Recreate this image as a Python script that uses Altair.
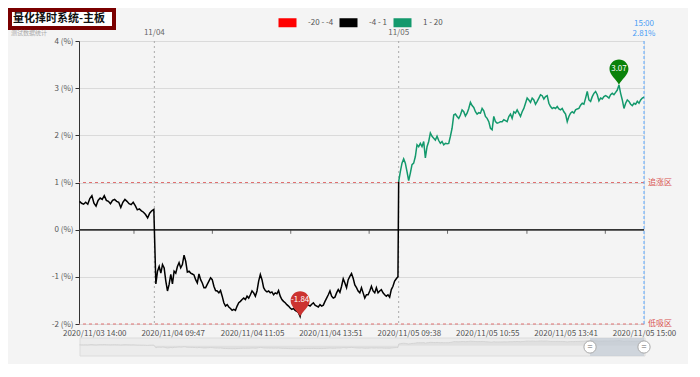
import altair as alt
import pandas as pd
import numpy as np

# ---------------- data ----------------
title_text = "量化择时系统-主板"
subtitle_text = "测试数据统计"

# 11/03 afternoon (percent)
seg1_values = [0.60, 0.56, 0.54, 0.58, 0.54, 0.66, 0.72, 0.56, 0.50, 0.62, 0.67, 0.64, 0.72,
               0.62, 0.60, 0.55, 0.62, 0.64, 0.60, 0.58, 0.47, 0.58, 0.64, 0.60, 0.55, 0.53,
               0.58, 0.51, 0.42, 0.44, 0.40, 0.37, 0.32, 0.25, 0.35, 0.40, 0.43]
# 11/04 full day
seg2_values = [-1.15, -0.88, -0.78, -0.92, -0.74, -0.81, -1.09, -1.30, -1.16, -0.95, -1.15,
               -0.88, -0.92, -0.78, -0.70, -0.81, -0.74, -0.54, -0.67, -0.90, -0.88, -0.92,
               -0.94, -0.96, -1.06, -1.13, -0.94, -1.06, -1.13, -1.23, -1.23, -1.16, -1.09,
               -1.02, -1.06, -1.20, -1.29, -1.30, -1.34, -1.29, -1.41, -1.55, -1.62, -1.59,
               -1.64, -1.67, -1.71, -1.69, -1.71, -1.62, -1.55, -1.52, -1.48, -1.45, -1.48,
               -1.41, -1.45, -1.38, -1.30, -1.34, -1.41, -1.30, -1.09, -0.95, -1.06, -1.23,
               -1.29, -1.32, -1.30, -1.34, -1.32, -1.38, -1.34, -1.36, -1.29, -1.41, -1.48,
               -1.52, -1.55, -1.59, -1.62, -1.66, -1.69, -1.67, -1.71, -1.73, -1.76, -1.84,
               -1.66, -1.62, -1.57, -1.59, -1.60, -1.62, -1.58, -1.55, -1.60, -1.62, -1.64,
               -1.59, -1.62, -1.60, -1.52, -1.45, -1.38, -1.30, -1.41, -1.45, -1.43, -1.34,
               -1.27, -1.33, -1.20, -1.04, -1.13, -1.23, -1.06, -0.99, -0.93, -1.03, -1.17,
               -1.23, -1.30, -1.34, -1.23, -1.34, -1.45, -1.38, -1.38, -1.30, -1.20, -1.30,
               -1.34, -1.23, -1.34, -1.30, -1.27, -1.34, -1.38, -1.41, -1.38, -1.43, -1.27,
               -1.20, -1.09, -1.04, -1.00]
# 11/05 full day
seg3_values = [1.02,
               1.23, 1.41, 1.50, 1.41, 1.23, 1.04, 1.20, 1.38, 1.41, 1.55,
               1.80, 1.76, 1.83, 1.76, 1.87, 1.52, 1.76, 1.87, 2.05, 1.98,
               1.94, 1.90, 1.98, 1.89, 1.83, 1.87, 1.80, 1.83, 1.82, 1.83,
               1.98, 2.15, 2.43, 2.45, 2.40, 2.36, 2.43, 2.54, 2.50, 2.41,
               2.47, 2.57, 2.70, 2.63, 2.59, 2.50, 2.45, 2.48, 2.47, 2.57,
               2.52, 2.40, 2.36, 2.29, 2.15, 2.12, 2.40, 2.29, 2.26, 2.27,
               2.29, 2.29, 2.33, 2.31, 2.29, 2.40, 2.45, 2.36, 2.50, 2.47,
               2.54, 2.47, 2.40, 2.50, 2.57, 2.68, 2.79, 2.75, 2.70, 2.79,
               2.75, 2.66, 2.72, 2.79, 2.86, 2.84, 2.77, 2.82, 2.84, 2.68,
               2.61, 2.57, 2.59, 2.57, 2.61, 2.56, 2.54, 2.57, 2.50, 2.45,
               2.29, 2.40, 2.47, 2.50, 2.47, 2.54, 2.56, 2.57, 2.64, 2.68,
               2.66, 2.79, 2.93, 2.75, 2.72, 2.82, 2.89, 2.93, 2.86, 2.73,
               2.79, 2.77, 2.82, 2.84, 2.82, 2.79, 2.86, 2.89, 2.86, 2.91,
               2.96, 3.07, 2.89, 2.75, 2.57, 2.68, 2.75, 2.72, 2.66, 2.63,
               2.68, 2.66, 2.72, 2.68, 2.75, 2.79, 2.81]

# trading-minute span of each session on the time axis
session_spans = [(0.5, 73.5), (75.5, 313.3), (314.0, 555.0)]
time_domain = [0, 555]

day_lines = [74, 314]
day_labels = ["11/04", "11/05"]
end_time_label = "15:00"

x_label_pos = [15, 92, 170, 247, 324, 401, 478, 555]
x_label_text = ["2020/11/03 14:00", "2020/11/04 09:47", "2020/11/04 11:05", "2020/11/04 13:51",
                "2020/11/05 09:38", "2020/11/05 10:55", "2020/11/05 13:41", "2020/11/05 15:00"]
zero_ticks = [54, 131, 208, 285, 362, 440, 517]
y_ticks = [-2, -1, 0, 1, 2, 3, 4]

band_names = ["-20 - -4", "-4 - 1", "1 - 20"]
band_colors = ["#ff0000", "#000000", "#13996c"]

zone_values = [1, -2]
zone_labels = ["追涨区", "低吸区"]

zoom_window = [502, 555]

# ---------------- build tables ----------------
t1 = np.linspace(*session_spans[0], len(seg1_values))
t2 = np.linspace(*session_spans[1], len(seg2_values))
t3 = np.linspace(*session_spans[2], len(seg3_values))

black_t = list(t1) + list(t2) + [t3[0]]
black_v = seg1_values + seg2_values + [seg3_values[0]]
line_df = pd.concat([
    pd.DataFrame({"t": black_t, "v": black_v, "band": band_names[1]}),
    pd.DataFrame({"t": list(t3), "v": seg3_values, "band": band_names[2]}),
], ignore_index=True)

all_df = pd.DataFrame({"t": list(t1) + list(t2) + list(t3),
                       "v": seg1_values + seg2_values + seg3_values})
imin = all_df["v"].idxmin()
imax = all_df["v"].idxmax()
pins_df = pd.DataFrame({
    "t": [all_df.t[imin], all_df.t[imax]],
    "v": [all_df.v[imin], all_df.v[imax]],
    "label": [f"{all_df.v[imin]:.2f}", f"{all_df.v[imax]:.2f}"],
    "color": ["#cc3330", "#0a820a"],
})

zone_df = pd.DataFrame({"v": zone_values, "label": zone_labels})
day_df = pd.DataFrame({"t": day_lines, "label": day_labels})
end_df = pd.DataFrame({"t": [time_domain[1]], "time": [end_time_label],
                       "pct": [f"{seg3_values[-1]:.2f}%"]})
tick_df = pd.DataFrame({"t": zero_ticks})
title_df = pd.DataFrame({"title": [title_text], "sub": [subtitle_text]})
win_df = pd.DataFrame({"t": [zoom_window[0]], "t2": [zoom_window[1]]})
handle_df = pd.DataFrame({"t": zoom_window})

W, H = 565, 283
FONT = "Noto Sans CJK SC"

xs = alt.Scale(domain=time_domain, nice=False, zero=False)
ys = alt.Scale(domain=[-2, 4], nice=False, zero=False)

label_expr = "{}[indexof({}, datum.value)]".format(
    "[" + ",".join(f"'{s}'" for s in x_label_text) + "]",
    "[" + ",".join(str(p) for p in x_label_pos) + "]")

x_axis = alt.Axis(values=x_label_pos, labelExpr=label_expr, ticks=False, domain=False,
                  grid=False, labelFontSize=8, labelColor="#555", labelPadding=5,
                  labelOverlap=False, labelFlush=False, title=None, labelFont=FONT)
y_axis = alt.Axis(values=y_ticks, labelExpr="datum.value + ' (%)'", labelFontSize=8,
                  labelColor="#555", domainColor="#333", tickColor="#333", tickSize=4,
                  gridColor="#dadada", gridWidth=1.2, title=None, labelPadding=2,
                  labelFont=FONT)

lines = alt.Chart(line_df).mark_line(strokeWidth=1.5).encode(
    x=alt.X("t:Q", scale=xs, axis=x_axis),
    y=alt.Y("v:Q", scale=ys, axis=y_axis),
    color=alt.Color("band:N", scale=alt.Scale(domain=band_names, range=band_colors),
                    legend=alt.Legend(orient="none", legendX=195, legendY=-32,
                                      direction="horizontal", columns=3, title=None,
                                      symbolType="M-1,0L1,0", symbolSize=324,
                                      symbolStrokeWidth=9, labelFontSize=8,
                                      labelColor="#555", labelOffset=7, columnPadding=-13,
                                      padding=0, labelFont=FONT)),
    order="t:Q",
)

zero_rule = alt.Chart(tick_df).mark_rule(color="#333", strokeWidth=1).encode(
    y=alt.datum(0, scale=ys))
zero_ticks_m = alt.Chart(tick_df).mark_tick(orient="vertical", size=4, thickness=1,
                                            color="#333", yOffset=2).encode(
    x=alt.X("t:Q", scale=xs), y=alt.datum(0))

zone_rules = alt.Chart(zone_df).mark_rule(color="#e07070", strokeDash=[3, 3]).encode(
    y=alt.Y("v:Q", scale=ys))
zone_text = alt.Chart(zone_df).mark_text(align="left", dx=4, fontSize=8, color="#d9534f",
                                         font=FONT).encode(
    y=alt.Y("v:Q", scale=ys), x=alt.value(W), text="label:N")

day_rules = alt.Chart(day_df).mark_rule(color="#aaaaaa", strokeDash=[2, 3]).encode(
    x=alt.X("t:Q", scale=xs))
day_text = alt.Chart(day_df).mark_text(fontSize=8, color="#666", font=FONT).encode(
    x=alt.X("t:Q", scale=xs), y=alt.value(-8), text="label:N")

end_rule = alt.Chart(end_df).mark_rule(color="#5aa8ff", strokeDash=[3, 2]).encode(
    x=alt.X("t:Q", scale=xs))
end_time = alt.Chart(end_df).mark_text(fontSize=8, color="#4a9df5", font=FONT).encode(
    x=alt.X("t:Q", scale=xs), y=alt.value(-17), text="time:N")
end_pct = alt.Chart(end_df).mark_text(fontSize=8, color="#4a9df5", font=FONT).encode(
    x=alt.X("t:Q", scale=xs), y=alt.value(-7), text="pct:N")

PIN = "M0,0 C-0.15,-0.35 -0.6,-0.6 -0.6,-1 A0.6,0.6 0 1 1 0.6,-1 C0.6,-0.6 0.15,-0.35 0,0 Z"
pins = alt.Chart(pins_df).mark_point(shape=PIN, size=1000, filled=True, opacity=1).encode(
    x=alt.X("t:Q", scale=xs), y=alt.Y("v:Q", scale=ys), color=alt.Color("color:N", scale=None))
pin_text = alt.Chart(pins_df).mark_text(fontSize=8, color="white", dy=-16, font=FONT).encode(
    x=alt.X("t:Q", scale=xs), y=alt.Y("v:Q", scale=ys), text="label:N")

title_box = alt.Chart(title_df).mark_rect(fill="white", stroke="#7a0000", strokeWidth=4).encode(
    x=alt.value(-69), x2=alt.value(35), y=alt.value(-31), y2=alt.value(-13))
title_txt = alt.Chart(title_df).mark_text(align="left", fontSize=11, fontWeight="bold",
                                          color="#111", font=FONT).encode(
    x=alt.value(-66), y=alt.value(-22), text="title:N")
sub_txt = alt.Chart(title_df).mark_text(align="left", fontSize=6, color="#aaa", font=FONT).encode(
    x=alt.value(-68), y=alt.value(-8), text="sub:N")

main = alt.layer(zone_rules, day_rules, end_rule, zero_rule, zero_ticks_m, lines, zone_text,
                 day_text, end_time, end_pct, pins, pin_text, title_box, title_txt, sub_txt)

# ---------------- data-zoom strip under the plot ----------------
mys = alt.Scale(domain=[-6, 4], range=[315, 298], zero=False, nice=False)
mini_bg = alt.Chart(title_df).mark_rect(fill="#ececec", stroke="#dcdcdc").encode(
    x=alt.value(1), x2=alt.value(W + 1), y=alt.value(297), y2=alt.value(315))
mini_area = alt.Chart(all_df).mark_area(color="#dcdcdc", line={"color": "#cfcfcf", "strokeWidth": 0.8}).encode(
    x=alt.X("t:Q", scale=xs), y=alt.Y("v:Q", scale=mys, axis=None), y2=alt.value(315))
mini_win = alt.Chart(win_df).mark_rect(fill="#b8c2d0", opacity=0.55).encode(
    x=alt.X("t:Q", scale=xs), x2="t2:Q", y=alt.value(297), y2=alt.value(315))
mini_handles = alt.Chart(handle_df).mark_point(shape="circle", size=150, filled=True,
                                               fill="white", stroke="#aaa", strokeWidth=1,
                                               opacity=1).encode(
    x=alt.X("t:Q", scale=xs), y=alt.value(306))
mini_handle_txt = alt.Chart(handle_df).mark_text(text="=", fontSize=9, color="#666").encode(
    x=alt.X("t:Q", scale=xs), y=alt.value(306))

mini = alt.layer(mini_bg, mini_area, mini_win, mini_handles, mini_handle_txt)

chart = alt.layer(main, mini).resolve_scale(y="independent").properties(
    width=W, height=H,
    padding={"left": 71, "top": 33, "right": 44, "bottom": 40},
    autosize=alt.AutoSizeParams(type="none"),
    background="#f4f4f4",
).configure_view(stroke=None).configure(font=FONT)

chart.save("out.html", embed_options={"renderer": "svg", "actions": False})
